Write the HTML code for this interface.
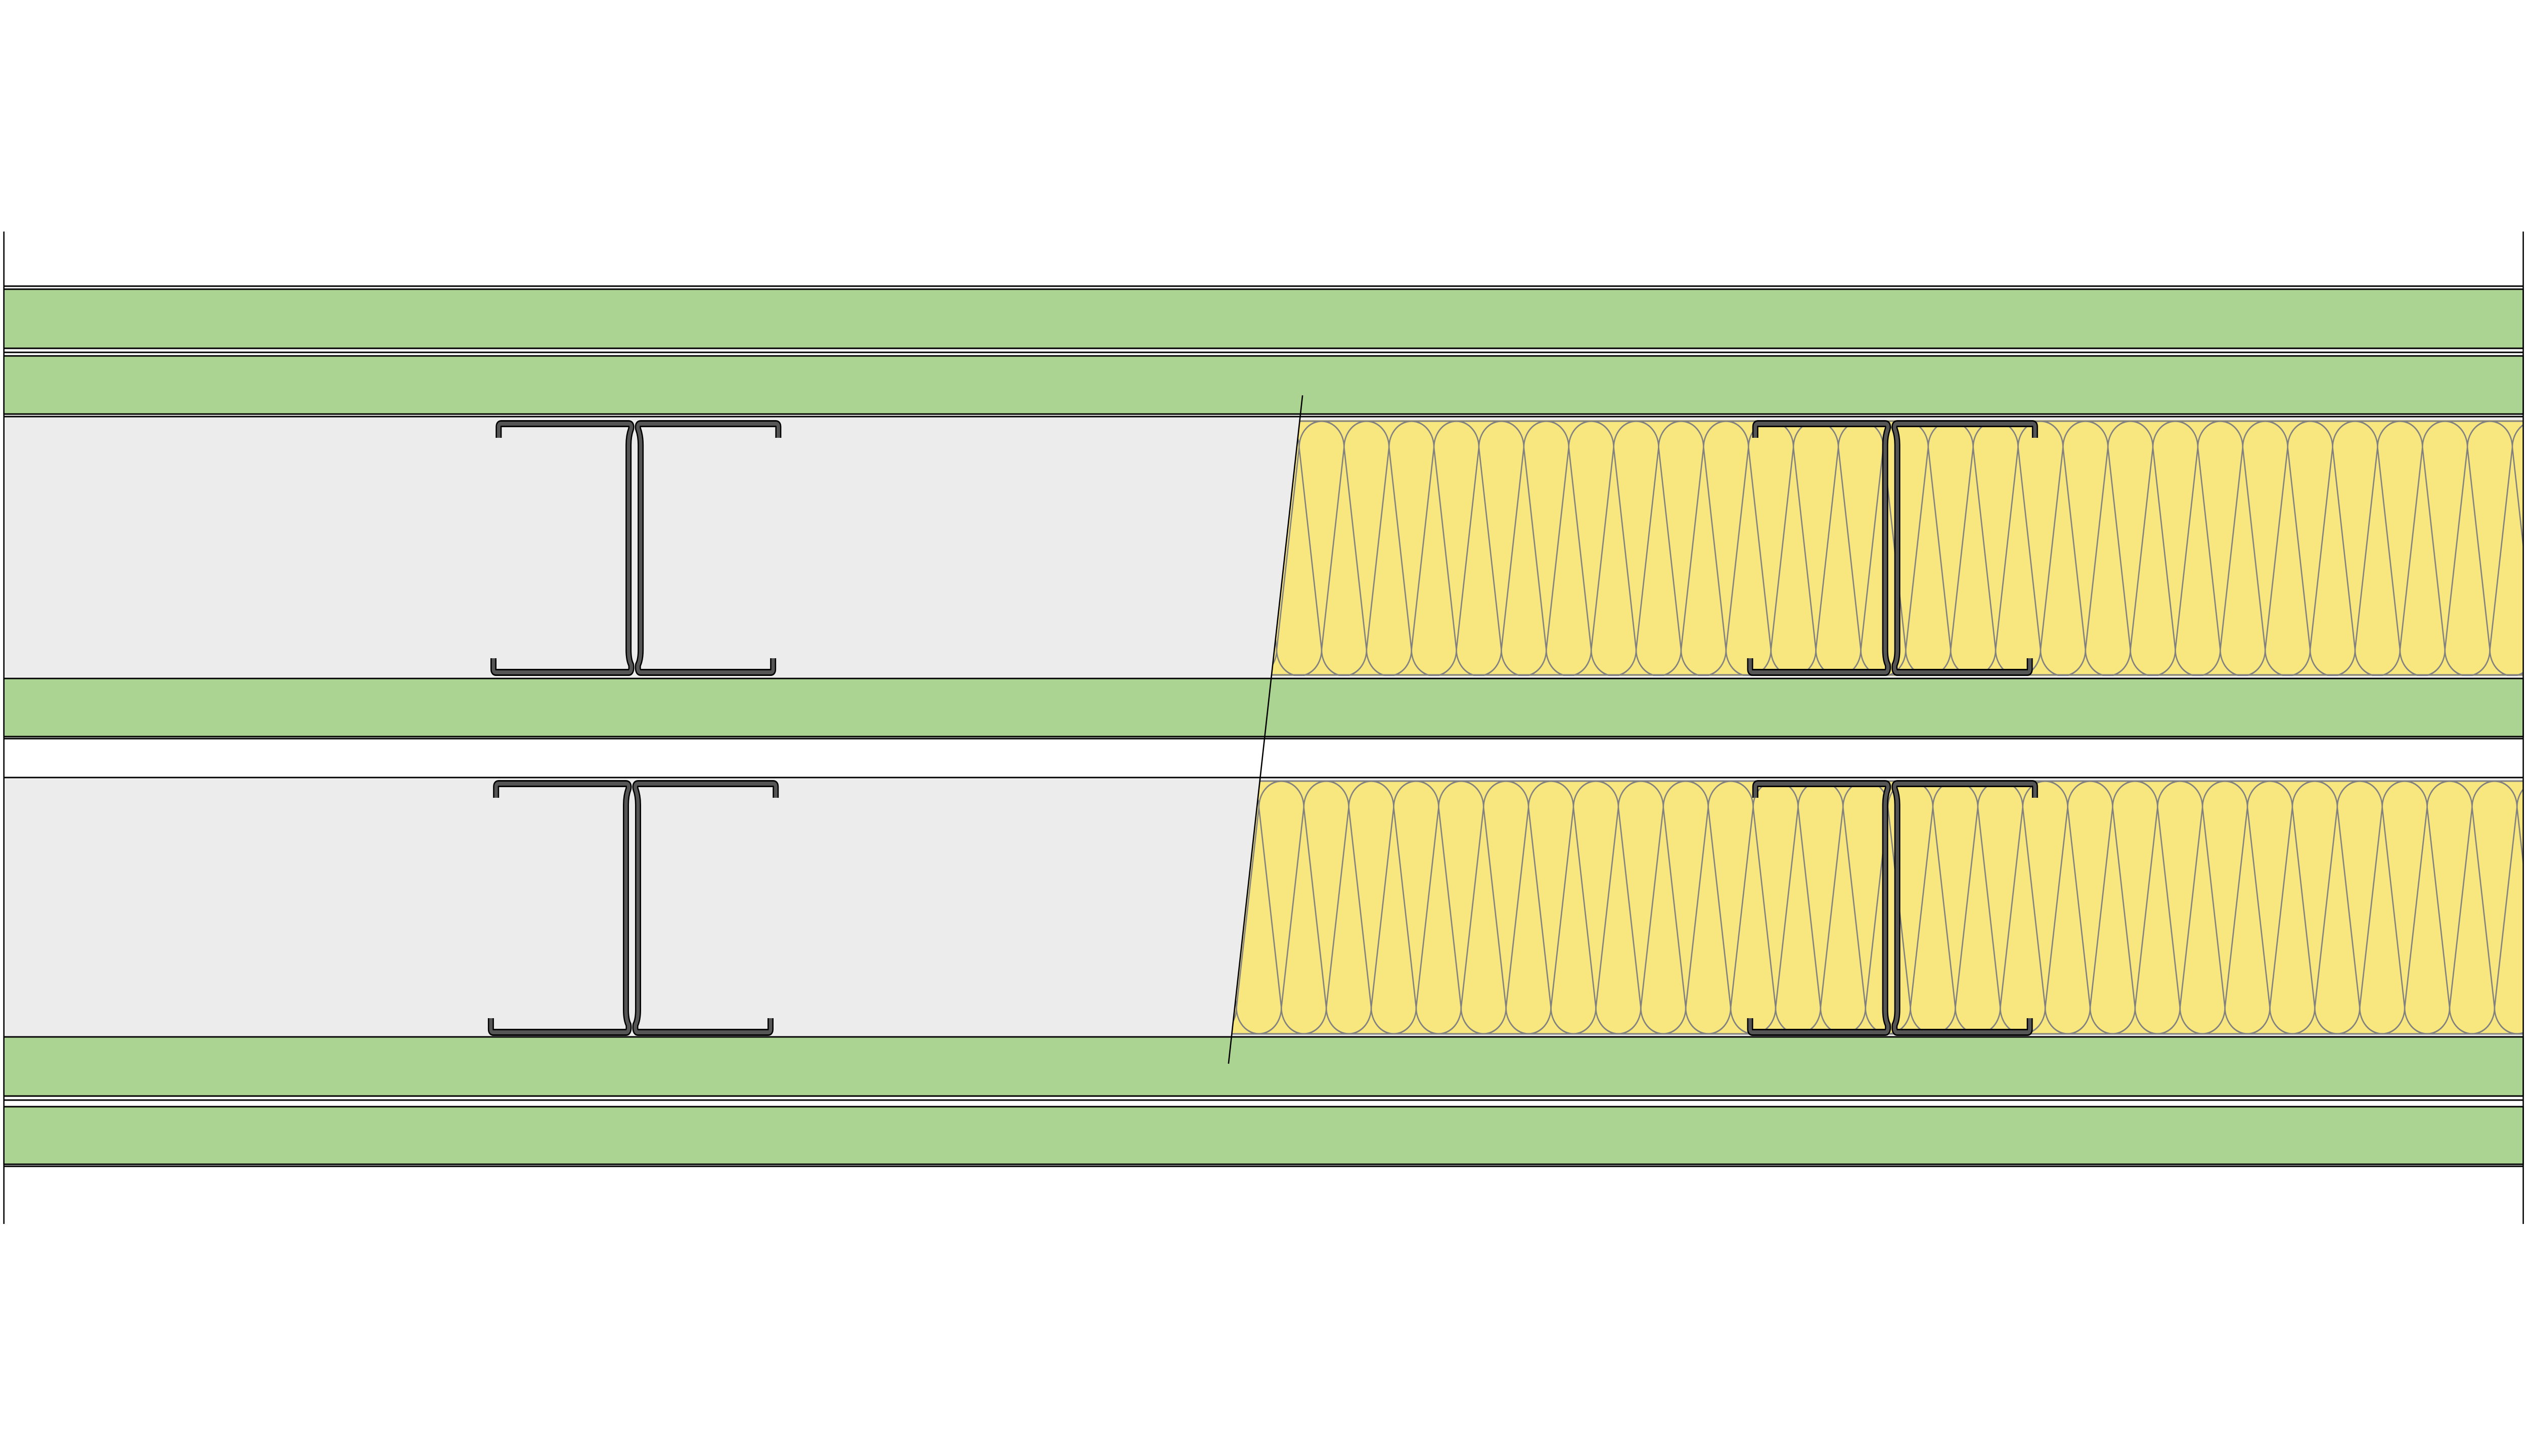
<!DOCTYPE html>
<html><head><meta charset="utf-8"><style>html,body{margin:0;padding:0;background:#fff;width:100%;height:100%;overflow:hidden}svg{display:block;width:100vw;height:100vh}</style></head>
<body>
<svg xmlns="http://www.w3.org/2000/svg" viewBox="0 0 5840 2880" preserveAspectRatio="none">
<defs>
<clipPath id="pg"><rect x="0" y="0" width="5840" height="2880"/></clipPath>
<pattern id="ins1" patternUnits="userSpaceOnUse" x="3105" y="0" width="103.8" height="2880">
<g fill="none" stroke="#808080" stroke-width="3">
<path d="M0 885 A51.9 51.9 0 0 1 103.8 885"/>
<path d="M-51.9 1285 A51.9 51.9 0 0 0 51.9 1285"/>
<path d="M51.9 1285 A51.9 51.9 0 0 0 155.7 1285"/>
<path d="M0 885 L51.9 1285 M103.8 885 L51.9 1285 M0 885 L-51.9 1285 M103.8 885 L155.7 1285"/>
</g></pattern>
<pattern id="ins2" patternUnits="userSpaceOnUse" x="3012" y="0" width="103.8" height="2880">
<g fill="none" stroke="#808080" stroke-width="3">
<path d="M0 1597 A51.9 51.9 0 0 1 103.8 1597"/>
<path d="M-51.9 1993 A51.9 51.9 0 0 0 51.9 1993"/>
<path d="M51.9 1993 A51.9 51.9 0 0 0 155.7 1993"/>
<path d="M0 1597 L51.9 1993 M103.8 1597 L51.9 1993 M0 1597 L-51.9 1993 M103.8 1597 L155.7 1993"/>
</g></pattern>
</defs>
<g clip-path="url(#pg)">
<rect x="9" y="825" width="5820" height="514" fill="#ececec"/>
<rect x="9" y="1541" width="5820" height="508" fill="#ececec"/>
<polygon points="3003,831 5829,831 5829,1337 2937,1337" fill="#f8e67e"/>
<polygon points="3003,831 5829,831 5829,1337 2937,1337" fill="url(#ins1)"/>
<polygon points="2910,1544 5829,1544 5829,2046 2846,2046" fill="#f8e67e"/>
<polygon points="2910,1544 5829,1544 5829,2046 2846,2046" fill="url(#ins2)"/>
<g stroke="#808080" stroke-width="3">
<line x1="3003" y1="833" x2="5829" y2="833"/><line x1="2937" y1="1335" x2="5829" y2="1335"/>
<line x1="2910" y1="1545" x2="5829" y2="1545"/><line x1="2846" y1="2045" x2="5829" y2="2045"/>
</g>
<g fill="#abd392" stroke="#000" stroke-width="3">
<rect x="9" y="572" width="5820" height="117"/>
<rect x="9" y="704" width="5820" height="115"/>
<rect x="9" y="1342" width="5820" height="115"/>
<rect x="9" y="2051" width="5820" height="117"/>
<rect x="9" y="2189" width="5820" height="114"/>
</g>
<g stroke="#000" stroke-width="3">
<line x1="9" y1="566" x2="5829" y2="566"/>
<line x1="9" y1="697" x2="5829" y2="697"/>
<line x1="9" y1="824" x2="5829" y2="824"/>
<line x1="9" y1="1461" x2="5829" y2="1461"/>
<line x1="9" y1="1538" x2="5829" y2="1538"/>
<line x1="9" y1="2176" x2="5829" y2="2176"/>
<line x1="9" y1="2307" x2="5829" y2="2307"/>
<line x1="9" y1="458" x2="9" y2="2421"/>
<line x1="5829" y1="458" x2="5829" y2="2421"/>
</g>
<g fill="none" stroke-linejoin="round" stroke-linecap="butt">
<g id="s1">
<path d="M1152 866 V844 Q1152 838 1158 838 H1452 Q1460 838 1458 848 Q1452 862 1452 880 V1285 Q1452 1305 1458 1315 Q1460 1330 1452 1330 H1146 Q1140 1330 1140 1324 V1302" stroke="#000" stroke-width="14"/>
<path d="M1152 866 V844 Q1152 838 1158 838 H1452 Q1460 838 1458 848 Q1452 862 1452 880 V1285 Q1452 1305 1458 1315 Q1460 1330 1452 1330 H1146 Q1140 1330 1140 1324 V1302" stroke="#555" stroke-width="8"/>
<path d="M1798 866 V844 Q1798 838 1792 838 H1480 Q1472 838 1474 848 Q1480 862 1480 880 V1285 Q1480 1305 1474 1315 Q1472 1330 1480 1330 H1780 Q1786 1330 1786 1324 V1302" stroke="#000" stroke-width="14"/>
<path d="M1798 866 V844 Q1798 838 1792 838 H1480 Q1472 838 1474 848 Q1480 862 1480 880 V1285 Q1480 1305 1474 1315 Q1472 1330 1480 1330 H1780 Q1786 1330 1786 1324 V1302" stroke="#555" stroke-width="8"/>
</g>
<use href="#s1" transform="translate(-6,712)"/>
<use href="#s1" transform="translate(2903,0)"/>
<use href="#s1" transform="translate(2903,712)"/>
</g>
<line x1="3009" y1="782" x2="2838" y2="2104" stroke="#000" stroke-width="3"/>
</g>
</svg>
</body></html>
